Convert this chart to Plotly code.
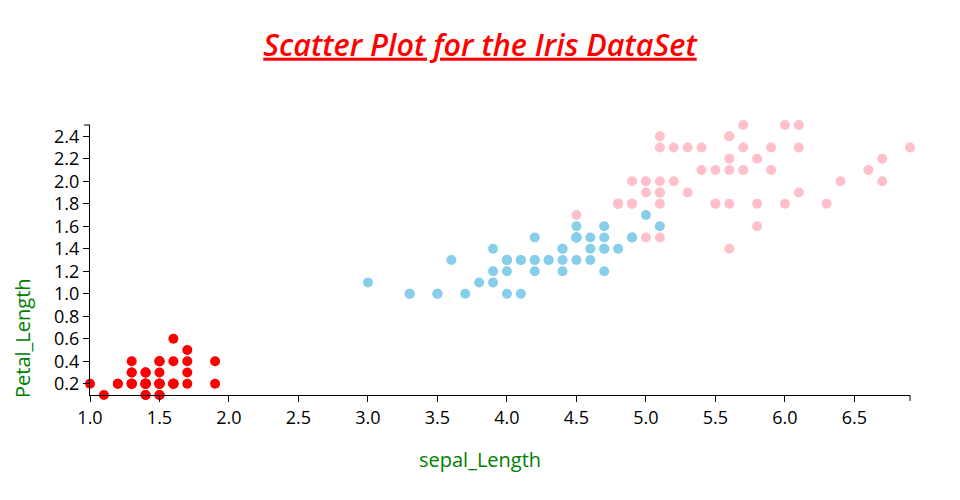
import plotly.graph_objects as go

# Iris petal length / petal width by species
setosa_x = [1.4,1.4,1.3,1.5,1.4,1.7,1.4,1.5,1.4,1.5,1.5,1.6,1.4,1.1,1.2,1.5,1.3,1.4,1.7,1.5,
            1.7,1.5,1.0,1.7,1.9,1.6,1.6,1.5,1.4,1.6,1.6,1.5,1.5,1.4,1.5,1.2,1.3,1.4,1.3,1.5,
            1.3,1.3,1.3,1.6,1.9,1.4,1.6,1.4,1.5,1.4]
setosa_y = [0.2,0.2,0.2,0.2,0.2,0.4,0.3,0.2,0.2,0.1,0.2,0.2,0.1,0.1,0.2,0.4,0.4,0.3,0.3,0.3,
            0.2,0.4,0.2,0.5,0.2,0.2,0.4,0.2,0.2,0.2,0.2,0.4,0.1,0.2,0.2,0.2,0.2,0.1,0.2,0.2,
            0.3,0.3,0.2,0.6,0.4,0.3,0.2,0.2,0.2,0.2]
versicolor_x = [4.7,4.5,4.9,4.0,4.6,4.5,4.7,3.3,4.6,3.9,3.5,4.2,4.0,4.7,3.6,4.4,4.5,4.1,4.5,3.9,
                4.8,4.0,4.9,4.7,4.3,4.4,4.8,5.0,4.5,3.5,3.8,3.7,3.9,5.1,4.5,4.5,4.7,4.4,4.1,4.0,
                4.4,4.6,4.0,3.3,4.2,4.2,4.2,4.3,3.0,4.1]
versicolor_y = [1.4,1.5,1.5,1.3,1.5,1.3,1.6,1.0,1.3,1.4,1.0,1.5,1.0,1.4,1.3,1.4,1.5,1.0,1.5,1.1,
                1.8,1.3,1.5,1.2,1.3,1.4,1.4,1.7,1.5,1.0,1.1,1.0,1.2,1.6,1.5,1.6,1.5,1.3,1.3,1.3,
                1.2,1.4,1.2,1.0,1.3,1.2,1.3,1.3,1.1,1.3]
virginica_x = [6.0,5.1,5.9,5.6,5.8,6.6,4.5,6.3,5.8,6.1,5.1,5.3,5.5,5.0,5.1,5.3,5.5,6.7,6.9,5.0,
               5.7,4.9,6.7,4.9,5.7,6.0,4.8,4.9,5.6,5.8,6.1,6.4,5.6,5.1,5.6,6.1,5.6,5.5,4.8,5.4,
               5.6,5.1,5.1,5.9,5.7,5.2,5.0,5.2,5.4,5.1]
virginica_y = [2.5,1.9,2.1,1.8,2.2,2.1,1.7,1.8,1.8,2.5,2.0,1.9,2.1,2.0,2.4,2.3,1.8,2.2,2.3,1.5,
               2.3,2.0,2.0,1.8,2.1,1.8,1.8,1.8,2.1,1.6,1.9,2.0,2.2,1.5,1.4,2.3,2.4,1.8,1.8,2.1,
               2.4,2.3,1.9,2.3,2.5,2.3,1.9,2.0,2.3,1.8]

x_ticks = [1.0,1.5,2.0,2.5,3.0,3.5,4.0,4.5,5.0,5.5,6.0,6.5]
y_ticks = [0.2,0.4,0.6,0.8,1.0,1.2,1.4,1.6,1.8,2.0,2.2,2.4]

FONT = "Open Sans"

fig = go.Figure()
for xs, ys, col, name in [(setosa_x, setosa_y, "red", "setosa"),
                          (versicolor_x, versicolor_y, "#87CEEB", "versicolor"),
                          (virginica_x, virginica_y, "#FFC0CB", "virginica")]:
    fig.add_trace(go.Scatter(x=xs, y=ys, mode="markers", name=name,
                             marker=dict(color=col, size=10, line=dict(width=0)),
                             cliponaxis=False, hoverinfo="x+y"))

# the page adds an 8px body margin, so margins are reduced by 8px to compensate
fig.update_layout(
    width=960, height=500,
    margin=dict(l=82, r=58, t=117, b=113, autoexpand=False),
    plot_bgcolor="white", paper_bgcolor="white",
    showlegend=False,
    font=dict(family=FONT, color="black", size=18),
    title=dict(text="<u>Scatter Plot for the Iris DataSet</u>",
               x=(480 - 8) / 960, xref="container", y=1 - (45 - 8) / 500, yref="container",
               xanchor="center", yanchor="middle",
               font=dict(family=FONT, size=30.5, color="red", style="italic", weight=600)),
    xaxis=dict(range=[min(setosa_x), max(virginica_x)], tickvals=x_ticks,
               ticktext=[f"{v:.1f}" for v in x_ticks], automargin=False,
               showgrid=False, zeroline=False, showline=True, linecolor="black",
               linewidth=1, ticks="outside", ticklen=6, tickcolor="black",
               tickfont=dict(size=18, family=FONT)),
    yaxis=dict(range=[0.1, 2.5], tickvals=y_ticks,
               ticktext=[f"{v:.1f}" for v in y_ticks], automargin=False,
               showgrid=False, zeroline=False, showline=True, linecolor="black",
               linewidth=1, ticks="outside", ticklen=6, tickcolor="black",
               tickfont=dict(size=18, family=FONT)),
    annotations=[
        dict(text="sepal_Length", xref="paper", yref="paper", x=0.4756, y=-0.24,
             showarrow=False, xanchor="center", yanchor="middle",
             font=dict(family=FONT, size=20, color="green")),
        dict(text="Petal_Length", xref="paper", yref="paper", x=-0.083, y=0.211,
             showarrow=False, xanchor="center", yanchor="middle", textangle=-90,
             font=dict(family=FONT, size=20, color="green")),
    ],
    shapes=[
        dict(type="line", xref="x domain", yref="y domain", x0=1, x1=1, y0=0, y1=-0.022,
             line=dict(color="black", width=1)),
        dict(type="line", xref="x domain", yref="y domain", x0=0, x1=-0.0073, y0=1, y1=1,
             line=dict(color="black", width=1)),
    ],
)

fig.write_html("out.html")
